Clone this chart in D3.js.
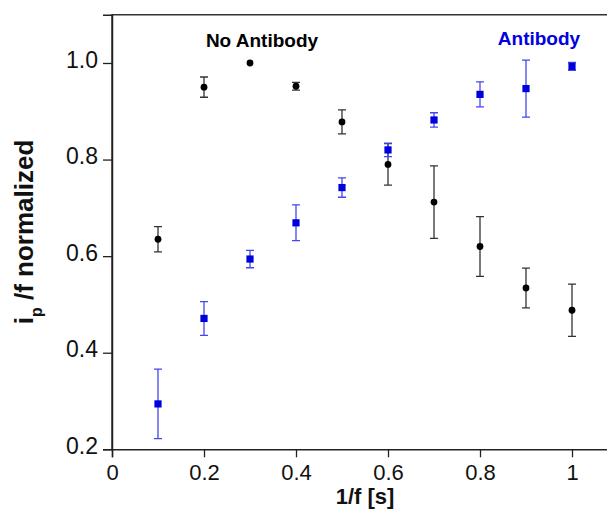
<!DOCTYPE html>
<html>
<head>
<meta charset="utf-8">
<script src="https://cdn.jsdelivr.net/npm/d3@7"></script>
<style>
  body { margin: 0; background: #fff; }
  svg { display: block; }
</style>
</head>
<body>
<div id="chart"></div>
<script>
// values
var xValues = [0.1, 0.2, 0.3, 0.4, 0.5, 0.6, 0.7, 0.8, 0.9, 1.0];
var noAntibody = [0.635, 0.950, 1.000, 0.952, 0.878, 0.790, 0.712, 0.620, 0.534, 0.488];
var noAntibodyErr = [0.026, 0.021, 0, 0.008, 0.025, 0.043, 0.075, 0.062, 0.041, 0.054];
var antibody = [0.294, 0.471, 0.594, 0.669, 0.742, 0.820, 0.882, 0.935, 0.947, 0.993];
var antibodyErr = [0.072, 0.035, 0.018, 0.037, 0.020, 0.014, 0.015, 0.026, 0.059, 0.008];
var xTicks = [0, 0.2, 0.4, 0.6, 0.8, 1];
var yTicks = [0.2, 0.4, 0.6, 0.8, 1.0];

var width = 607, height = 509;
var svg = d3.select("#chart").append("svg")
  .attr("width", width)
  .attr("height", height);

var x = d3.scaleLinear().domain([0, 1.1]).range([112, 618]);
var y = d3.scaleLinear().domain([0.2, 1.1]).range([449.3, 14.7]);

// frame (right side runs off the page)
svg.append("path")
  .attr("d", "M" + x(0) + "," + y(0.2) + "V" + y(1.1) + "H" + (x(1.1) + 5))
  .attr("fill", "none")
  .attr("stroke", "#333")
  .attr("stroke-width", 1.5);

// axes
var xAxis = svg.append("g")
  .attr("transform", "translate(0," + y(0.2) + ")")
  .call(d3.axisBottom(x).tickValues(xTicks).tickFormat(d3.format("~g")).tickSize(8).tickPadding(6));
var yAxis = svg.append("g")
  .attr("transform", "translate(" + x(0) + ",0)")
  .call(d3.axisLeft(y).tickValues(yTicks).tickFormat(d3.format(".1f")).tickSize(9).tickPadding(5));

[xAxis, yAxis].forEach(function (ax) {
  ax.select(".domain").attr("stroke", "#222").attr("stroke-width", 1.5);
  ax.selectAll(".tick line").attr("stroke", "#222").attr("stroke-width", 1.3);
  ax.selectAll(".tick text")
    .attr("fill", "#111")
    .style("font-family", "'Liberation Sans', Arial, sans-serif")
    .style("font-size", "23px");
});
yAxis.selectAll(".tick text").attr("dy", "0.18em");
xAxis.selectAll(".tick text").style("font-size", "22px").attr("dy", "0.74em");

// error bars + markers
function drawSeries(vals, errs, color, barColor, shape) {
  var g = svg.append("g");
  var capW = 4;
  xValues.forEach(function (xv, i) {
    var cx = x(xv), e = errs[i];
    if (e > 0) {
      var y0 = y(vals[i] - e), y1 = y(vals[i] + e);
      g.append("path")
        .attr("d", "M" + cx + "," + y0 + "V" + y1 +
          "M" + (cx - capW) + "," + y0 + "H" + (cx + capW) +
          "M" + (cx - capW) + "," + y1 + "H" + (cx + capW))
        .attr("fill", "none")
        .attr("stroke", barColor)
        .attr("stroke-width", 1.3);
    }
    if (shape === "circle") {
      g.append("circle")
        .attr("cx", cx).attr("cy", y(vals[i])).attr("r", 3.4)
        .attr("fill", color);
    } else {
      g.append("rect")
        .attr("x", cx - 3.6).attr("y", y(vals[i]) - 3.6)
        .attr("width", 7.2).attr("height", 7.2)
        .attr("fill", color);
    }
  });
}
drawSeries(noAntibody, noAntibodyErr, "#000", "#333", "circle");
drawSeries(antibody, antibodyErr, "#0000dd", "#4646ee", "square");

// annotations
svg.append("text")
  .attr("x", 262).attr("y", 47)
  .attr("text-anchor", "middle")
  .style("font-family", "'Liberation Sans', Arial, sans-serif")
  .style("font-weight", "bold").style("font-size", "19px")
  .attr("fill", "#000")
  .text("No Antibody");
svg.append("text")
  .attr("x", 539).attr("y", 45)
  .attr("text-anchor", "middle")
  .style("font-family", "'Liberation Sans', Arial, sans-serif")
  .style("font-weight", "bold").style("font-size", "19px")
  .attr("fill", "#0000e0")
  .text("Antibody");

// axis titles
svg.append("text")
  .attr("x", 365).attr("y", 504)
  .attr("text-anchor", "middle")
  .style("font-family", "'Liberation Sans', Arial, sans-serif")
  .style("font-weight", "bold").style("font-size", "22px")
  .attr("fill", "#111")
  .text("1/f [s]");

var yl = svg.append("text")
  .attr("transform", "translate(33,232) rotate(-90)")
  .attr("text-anchor", "middle")
  .style("font-family", "'Liberation Sans', Arial, sans-serif")
  .style("font-weight", "bold").style("font-size", "26px")
  .attr("fill", "#111");
yl.append("tspan").text("i");
yl.append("tspan").attr("dy", 9).style("font-size", "16px").text("p");
yl.append("tspan").attr("dy", -9).text(" /f normalized");
</script>
</body>
</html>
